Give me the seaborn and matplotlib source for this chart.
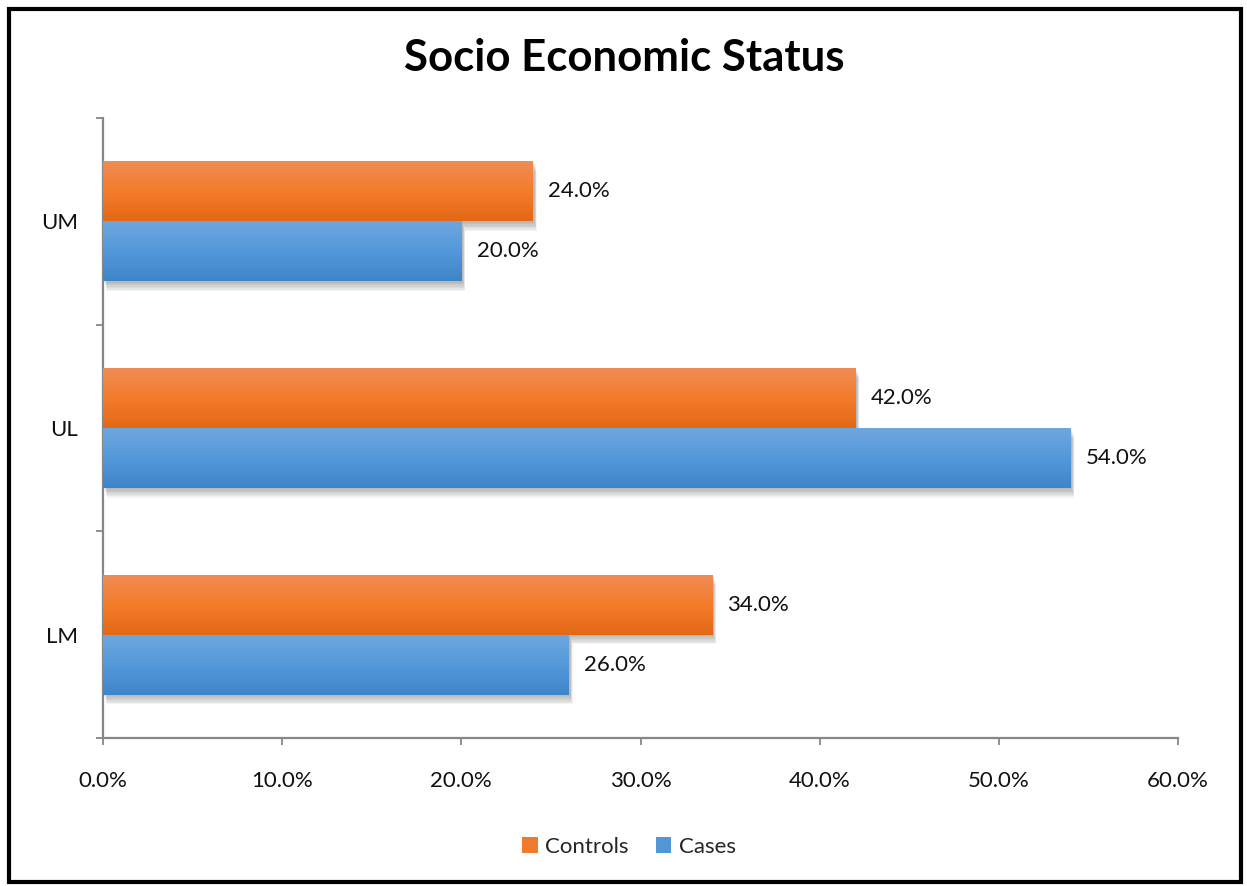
import numpy as np
import pandas as pd
import matplotlib
matplotlib.use("Agg")
import matplotlib.pyplot as plt
import matplotlib.patheffects as pe
from matplotlib.colors import LinearSegmentedColormap
from matplotlib.patches import Patch, Rectangle
from matplotlib.ticker import FixedLocator
import seaborn as sns

# --- data ---
categories = ["UM", "UL", "LM"]
series = ["Controls", "Cases"]
controls = [24.0, 42.0, 34.0]
cases = [20.0, 54.0, 26.0]
x_ticks = [0, 10, 20, 30, 40, 50, 60]

df = pd.DataFrame({
    "status": categories * 2,
    "group": ["Controls"] * 3 + ["Cases"] * 3,
    "value": controls + cases,
})

# vertical gradients (top, middle, bottom) for each series
gradients = {
    "Controls": ["#F08C55", "#F47C2A", "#E36816"],
    "Cases": ["#6FA7DF", "#5398DA", "#3E85C7"],
}
solid = {"Controls": "#F07A2C", "Cases": "#5296D8"}

sns.set_theme(style="white")
plt.rcParams["font.family"] = ["Lato", "DejaVu Sans"]

W, H = 1247, 886
fig = plt.figure(figsize=(W / 100, H / 100), dpi=100)
ax = fig.add_axes([103 / W, 1 - 738 / H, (1178 - 103) / W, (738 - 118) / H])

sns.barplot(data=df, y="status", x="value", hue="group", order=categories,
            hue_order=series, palette=solid, orient="h", width=0.58,
            legend=False, ax=ax, saturation=1)

# soft drop shadow built from several faint offset copies
shadow = [pe.SimplePatchShadow(offset=(1.0 + 0.3 * k, -1.0 - 1.0 * k),
                               shadow_rgbFace="#555555", alpha=0.07)
          for k in range(7)] + [pe.Normal()]

n = len(categories)
for i, patch in enumerate(ax.patches[: 2 * n]):
    grp = series[i // n]
    patch.set_edgecolor("none")
    patch.set_path_effects(shadow)
    cmap = LinearSegmentedColormap.from_list(grp, gradients[grp])
    x0, y0 = patch.get_x(), patch.get_y()
    w, h = patch.get_width(), patch.get_height()
    grad = np.linspace(0, 1, 256).reshape(-1, 1)
    im = ax.imshow(grad, cmap=cmap, aspect="auto",
                   extent=[x0, x0 + w, y0 + h, y0], origin="upper", zorder=3)
    im.set_clip_path(patch)
    ax.text(x0 + w + 0.85, y0 + h / 2, f"{w:.1f}%", va="center", ha="left",
            fontsize=16, color="#111111", zorder=4)

ax.set_xlim(0, 60)
ax.set_ylim(n - 0.5, -0.5)
ax.set_xticks(x_ticks)
ax.set_xticklabels([f"{t:.1f}%" for t in x_ticks], fontsize=16, color="#111111")
ax.set_yticks(range(n))
ax.set_yticklabels(categories, fontsize=16, color="#111111")
ax.yaxis.set_minor_locator(FixedLocator(np.arange(-0.5, n, 1.0)))
ax.set_xlabel("")
ax.set_ylabel("")

for side in ["top", "right"]:
    ax.spines[side].set_visible(False)
for side in ["left", "bottom"]:
    ax.spines[side].set_color("#878787")
    ax.spines[side].set_linewidth(1.6)

ax.tick_params(axis="x", which="major", direction="out", length=5, width=1.3,
               color="#878787", pad=19, bottom=True)
ax.tick_params(axis="y", which="major", length=0, pad=18, left=True)
ax.tick_params(axis="y", which="minor", direction="out", length=5, width=1.3,
               color="#878787", left=True)

fig.text(624 / W, 1 - 58 / H, "Socio Economic Status", ha="center", va="center",
         fontsize=31.5, fontweight="bold", color="#000000")

handles = [Patch(facecolor=solid[s], edgecolor="none", label=s) for s in series]
fig.legend(handles=handles, loc="center", bbox_to_anchor=(629 / W, 1 - 847 / H),
           ncol=2, frameon=False, fontsize=16, handlelength=0.7, handleheight=0.7,
           handletextpad=0.35, columnspacing=1.2)

# outer chart frame
fig.patches.append(Rectangle((9 / W, 1 - 882 / H), (1241 - 9) / W, (882 - 9) / H,
                             transform=fig.transFigure, fill=False,
                             edgecolor="black", linewidth=3))

fig.savefig("out.png", dpi=100)
